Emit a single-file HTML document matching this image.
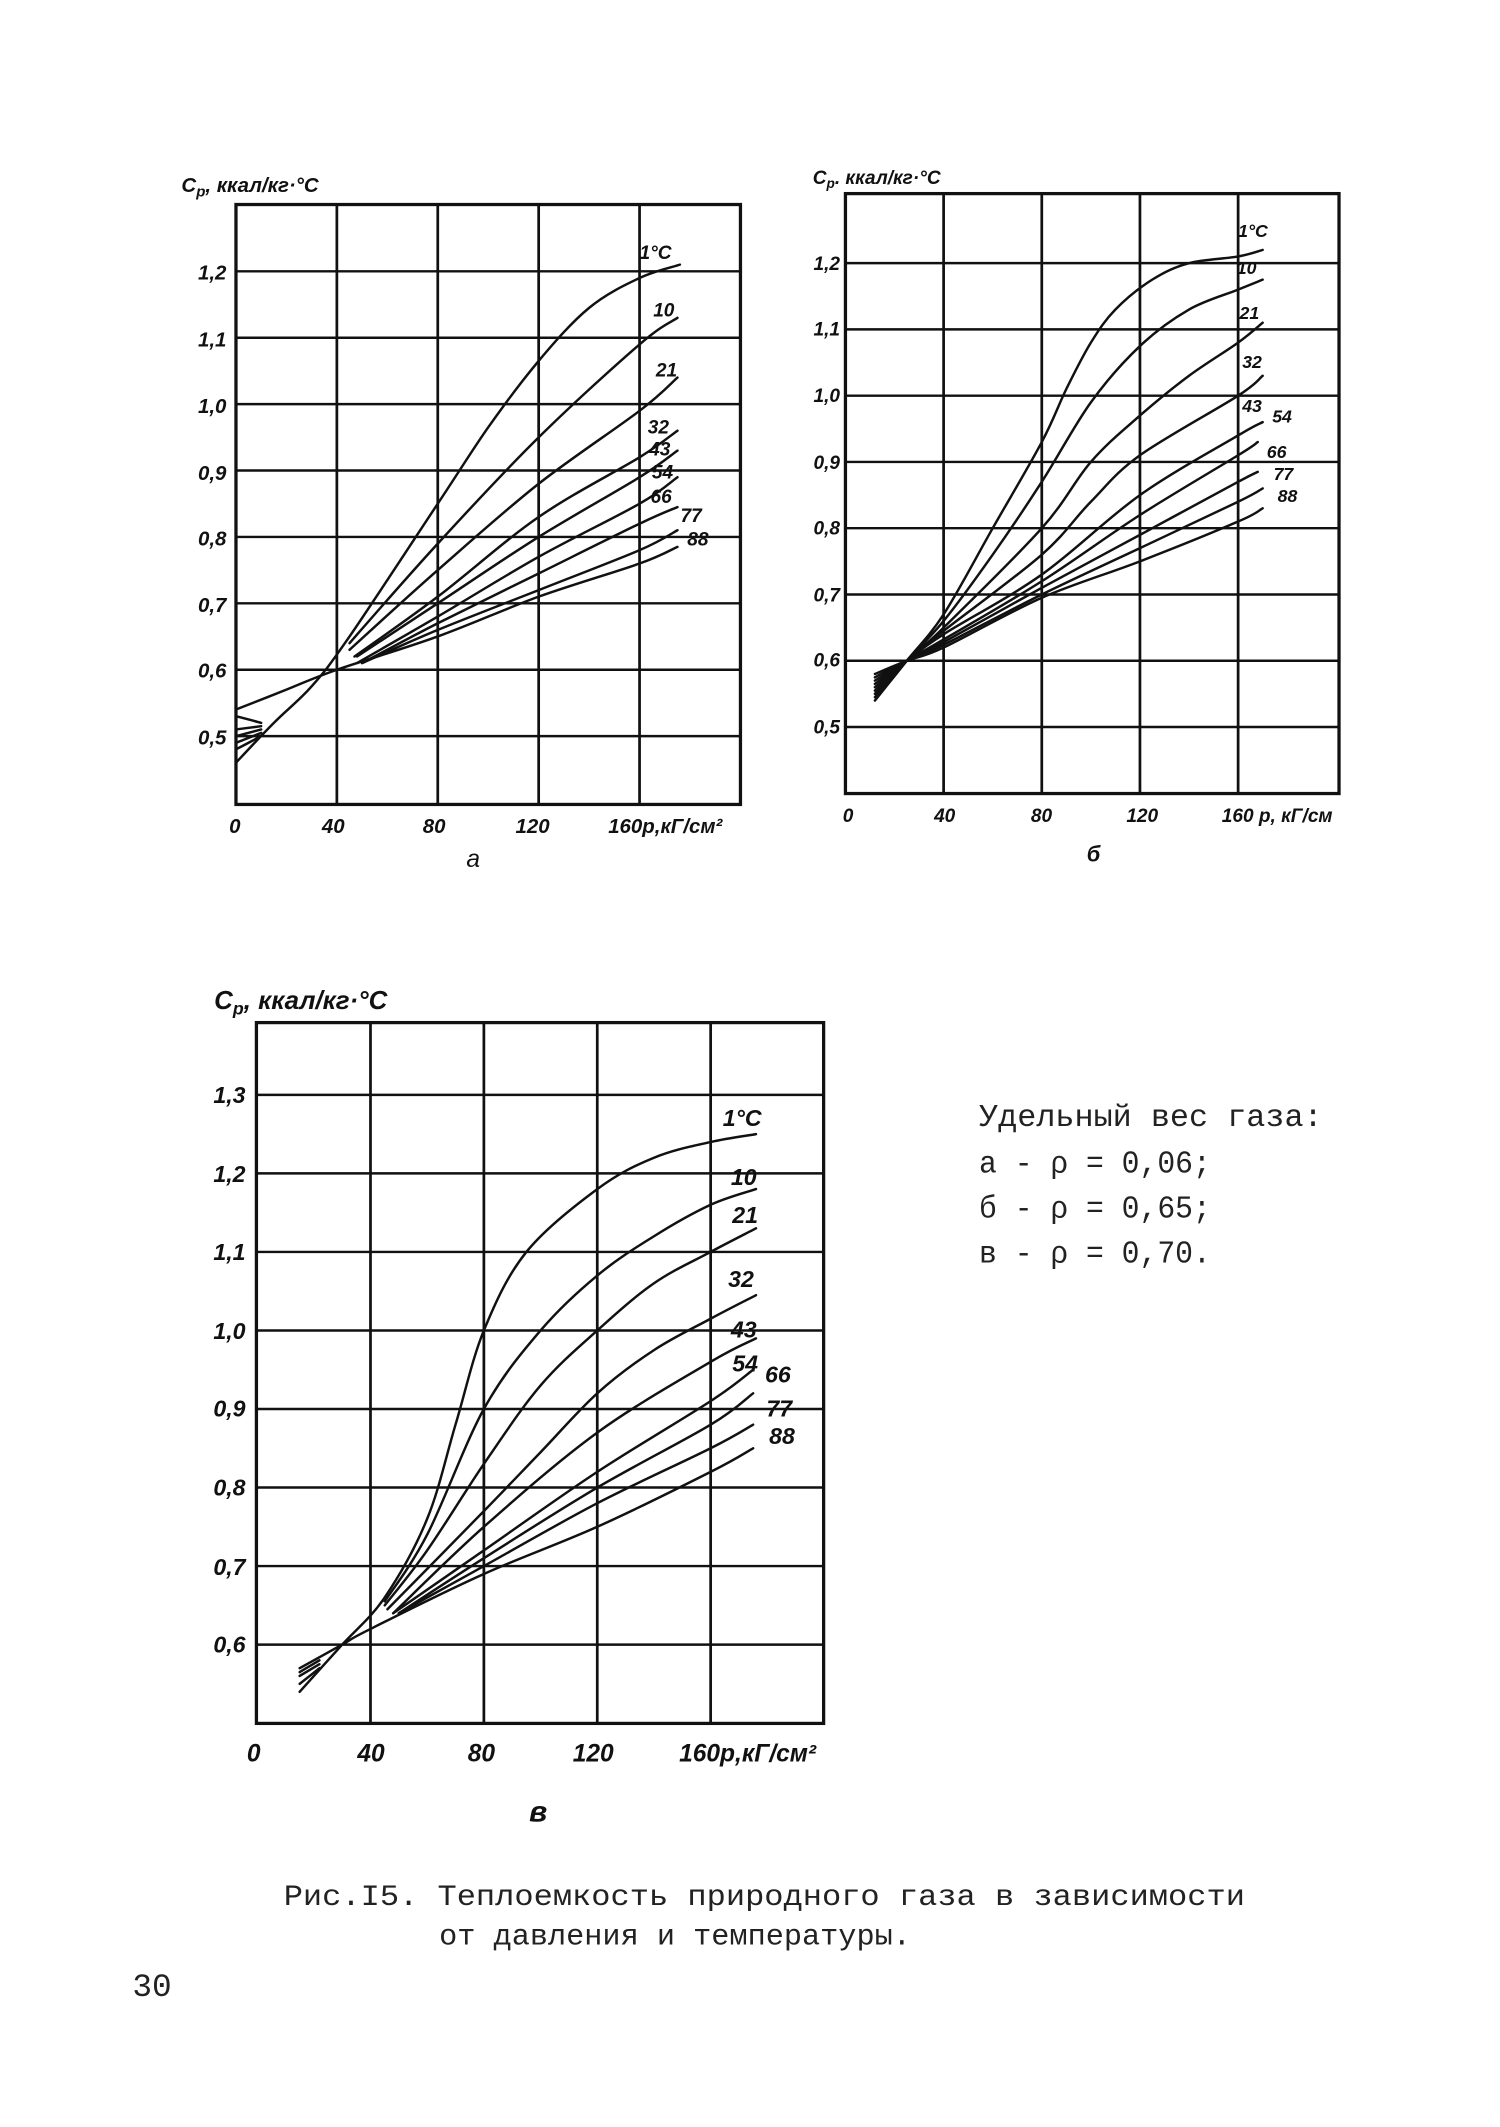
<!DOCTYPE html>
<html><head><meta charset="utf-8"><style>
html,body{margin:0;padding:0;background:#fff}
svg{display:block}
.t{font-family:"Liberation Sans","DejaVu Sans",sans-serif;font-style:italic;font-weight:bold;fill:#111}
.m{font-family:"Liberation Mono","DejaVu Sans Mono",monospace;fill:#222}
</style></head><body>
<svg id="s" width="1500" height="2127" viewBox="0 0 1100 1560" xmlns="http://www.w3.org/2000/svg">
<rect width="1100" height="1560" fill="#fff"/>
<g id="grids" stroke="#111" fill="none"></g>
<g id="curves" stroke="#111" fill="none" stroke-width="1.8" stroke-linecap="round" stroke-linejoin="round"></g>

<text class="t" x="133" y="141" font-size="15">C<tspan font-size="11" dy="3">p</tspan><tspan dy="-3">, ккал/кг·°C</tspan></text>
<g class="t" font-size="15" text-anchor="end">
<text x="166" y="205">1,2</text><text x="166" y="254">1,1</text><text x="166" y="303">1,0</text>
<text x="166" y="352">0,9</text><text x="166" y="400">0,8</text><text x="166" y="449">0,7</text>
<text x="166" y="497">0,6</text><text x="166" y="546">0,5</text></g>
<g class="t" font-size="15">
<text x="168" y="611">0</text><text x="236" y="611">40</text><text x="310" y="611">80</text>
<text x="378" y="611">120</text><text x="446" y="611">160р,кГ/см²</text>
<text x="342" y="636" font-weight="normal" font-size="18">а</text></g>
<g class="t" font-size="14" font-weight="normal">
<text x="469" y="190">1°C</text><text x="479" y="232">10</text><text x="481" y="276">21</text>
<text x="475" y="318">32</text><text x="476" y="334">43</text><text x="478" y="351">54</text>
<text x="477" y="369">66</text><text x="499" y="383">77</text><text x="504" y="400">88</text></g>

<text class="t" x="596" y="135" font-size="14">C<tspan font-size="10" dy="3">p</tspan><tspan dy="-3">. ккал/кг·°C</tspan></text>
<g class="t" font-size="14" text-anchor="end">
<text x="616" y="198">1,2</text><text x="616" y="246">1,1</text><text x="616" y="295">1,0</text>
<text x="616" y="344">0,9</text><text x="616" y="392">0,8</text><text x="616" y="441">0,7</text>
<text x="616" y="489">0,6</text><text x="616" y="538">0,5</text></g>
<g class="t" font-size="14">
<text x="618" y="603">0</text><text x="685" y="603">40</text><text x="756" y="603">80</text>
<text x="826" y="603">120</text><text x="896" y="603">160 р, кГ/см</text>
<text x="797" y="632" font-size="16">б</text></g>
<g class="t" font-size="13" font-weight="normal">
<text x="908" y="174">1°C</text><text x="907" y="201">10</text><text x="909" y="234">21</text>
<text x="911" y="270">32</text><text x="911" y="302">43</text><text x="933" y="310">54</text>
<text x="929" y="336">66</text><text x="934" y="352">77</text><text x="937" y="368">88</text></g>

<text class="t" x="157" y="740" font-size="19" font-weight="normal">C<tspan font-size="13" dy="4">р</tspan><tspan dy="-4">, ккал/кг·°C</tspan></text>
<g class="t" font-size="17" font-weight="normal" text-anchor="end">
<text x="180" y="809">1,3</text><text x="180" y="867">1,2</text><text x="180" y="924">1,1</text>
<text x="180" y="982">1,0</text><text x="180" y="1039">0,9</text><text x="180" y="1097">0,8</text>
<text x="180" y="1155">0,7</text><text x="180" y="1212">0,6</text></g>
<g class="t" font-size="18" font-weight="normal">
<text x="181" y="1292">0</text><text x="262" y="1292">40</text><text x="343" y="1292">80</text>
<text x="420" y="1292">120</text><text x="498" y="1292">160р,кГ/см²</text>
<text x="388" y="1336" font-size="22">в</text></g>
<g class="t" font-size="17">
<text x="530" y="826">1°C</text><text x="536" y="869">10</text><text x="537" y="897">21</text>
<text x="534" y="944">32</text><text x="536" y="981">43</text><text x="537" y="1006">54</text>
<text x="561" y="1014">66</text><text x="562" y="1039">77</text><text x="564" y="1059">88</text></g>

<g class="m" font-size="23">
<text x="718" y="826" textLength="252" lengthAdjust="spacingAndGlyphs">Удельный вес газа:</text>
<text x="718" y="860" textLength="170" lengthAdjust="spacingAndGlyphs">а - ρ = 0,06;</text>
<text x="718" y="893" textLength="170" lengthAdjust="spacingAndGlyphs">б - ρ = 0,65;</text>
<text x="718" y="926" textLength="170" lengthAdjust="spacingAndGlyphs">в - ρ = 0,70.</text>
<text x="208" y="1397" font-size="22" textLength="705" lengthAdjust="spacingAndGlyphs">Рис.I5. Теплоемкость природного газа в зависимости</text>
<text x="322" y="1426" font-size="22" textLength="346" lengthAdjust="spacingAndGlyphs">от давления и температуры.</text>
<text x="97" y="1464" font-size="24">30</text>
</g>
</svg>
<script>
(function(){
var NS="http://www.w3.org/2000/svg";
var G=document.getElementById('grids'),C=document.getElementById('curves');
function el(p,tag,a){var e=document.createElementNS(NS,tag);for(var k in a)e.setAttribute(k,a[k]);p.appendChild(e);return e;}
function chart(o){
 var X=function(p){return o.x0+p*o.sx},Y=function(v){return o.y0+(o.v0-v)*o.sy};
 el(G,'rect',{x:o.L,y:o.T,width:o.R-o.L,height:o.B-o.T,'stroke-width':2.4});
 [40,80,120,160].forEach(function(p){el(G,'line',{x1:X(p),x2:X(p),y1:o.T,y2:o.B,'stroke-width':2});});
 o.hv.forEach(function(v){el(G,'line',{x1:o.L,x2:o.R,y1:Y(v),y2:Y(v),'stroke-width':1.8});});
 o.c.forEach(function(pts){
  var P=pts.map(function(q){return [X(q[0]),Y(q[1])]});
  var d='M'+P[0][0].toFixed(1)+','+P[0][1].toFixed(1);
  for(var i=0;i<P.length-1;i++){
   var p0=P[i-1]||P[i],p1=P[i],p2=P[i+1],p3=P[i+2]||p2;
   var c1=[p1[0]+(p2[0]-p0[0])/6,p1[1]+(p2[1]-p0[1])/6],c2=[p2[0]-(p3[0]-p1[0])/6,p2[1]-(p3[1]-p1[1])/6];
   d+=' C'+c1[0].toFixed(1)+','+c1[1].toFixed(1)+' '+c2[0].toFixed(1)+','+c2[1].toFixed(1)+' '+p2[0].toFixed(1)+','+p2[1].toFixed(1);
  }
  el(C,'path',{d:d});
 });
}
chart({L:173,R:543,T:150,B:590,x0:173,sx:1.85,y0:199,v0:1.2,sy:487,hv:[1.2,1.1,1.0,0.9,0.8,0.7,0.6,0.5],
 c:[
 [[0,0.46],[15,0.52],[30,0.575],[45,0.65],[80,0.85],[100,0.965],[120,1.065],[140,1.145],[160,1.19],[176,1.21]],
 [[45,0.64],[80,0.79],[120,0.95],[160,1.09],[175,1.13]],
 [[45,0.63],[80,0.75],[120,0.88],[160,0.99],[175,1.04]],
 [[47,0.62],[80,0.71],[120,0.83],[160,0.92],[175,0.96]],
 [[48,0.62],[80,0.70],[120,0.80],[160,0.89],[175,0.93]],
 [[48,0.61],[80,0.68],[120,0.77],[160,0.85],[175,0.89]],
 [[50,0.61],[80,0.67],[120,0.745],[160,0.82],[175,0.845]],
 [[50,0.61],[80,0.66],[120,0.72],[160,0.78],[175,0.81]],
 [[0,0.54],[20,0.57],[40,0.6],[80,0.65],[120,0.71],[160,0.76],[175,0.785]],
 [[0,0.53],[10,0.52]],[[0,0.51],[10,0.515]],[[0,0.5],[10,0.51]],[[0,0.49],[10,0.505]],[[0,0.48],[10,0.5]]
 ]});
chart({L:620,R:982,T:142,B:582,x0:620,sx:1.8,y0:193,v0:1.2,sy:486,hv:[1.2,1.1,1.0,0.9,0.8,0.7,0.6,0.5],
 c:[
 [[12,0.54],[25,0.6],[40,0.67],[60,0.8],[80,0.93],[90,1.01],[100,1.08],[110,1.13],[125,1.175],[140,1.2],[160,1.21],[170,1.22]],
 [[12,0.545],[25,0.6],[40,0.66],[60,0.76],[80,0.87],[100,0.99],[120,1.075],[140,1.13],[160,1.16],[170,1.175]],
 [[12,0.55],[25,0.6],[40,0.65],[80,0.8],[100,0.9],[120,0.97],[140,1.03],[160,1.08],[170,1.11]],
 [[12,0.555],[25,0.6],[40,0.645],[80,0.76],[100,0.84],[120,0.91],[160,1.0],[170,1.03]],
 [[12,0.56],[25,0.6],[40,0.64],[80,0.73],[120,0.85],[160,0.94],[170,0.96]],
 [[12,0.565],[25,0.6],[40,0.632],[80,0.72],[120,0.82],[160,0.91],[168,0.93]],
 [[12,0.57],[25,0.6],[40,0.628],[80,0.71],[120,0.79],[160,0.87],[168,0.885]],
 [[12,0.575],[25,0.6],[40,0.624],[80,0.70],[120,0.77],[160,0.84],[170,0.86]],
 [[12,0.58],[25,0.6],[40,0.62],[80,0.695],[120,0.75],[160,0.81],[170,0.83]]
 ]});
chart({L:188,R:604,T:750,B:1264,x0:188.5,sx:2.079,y0:803,v0:1.3,sy:576,hv:[1.3,1.2,1.1,1.0,0.9,0.8,0.7,0.6],
 c:[
 [[15,0.54],[30,0.6],[45,0.66],[60,0.76],[70,0.88],[80,1.0],[95,1.1],[120,1.18],[140,1.22],[160,1.24],[176,1.25]],
 [[45,0.655],[60,0.74],[80,0.9],[100,1.0],[120,1.07],[140,1.12],[160,1.16],[176,1.18]],
 [[45,0.65],[60,0.72],[80,0.83],[100,0.93],[120,1.0],[140,1.06],[160,1.1],[176,1.13]],
 [[46,0.645],[80,0.77],[100,0.845],[120,0.92],[140,0.975],[160,1.015],[176,1.045]],
 [[48,0.64],[80,0.75],[120,0.87],[160,0.96],[176,0.99]],
 [[48,0.64],[80,0.72],[120,0.82],[160,0.91],[175,0.95]],
 [[50,0.64],[80,0.71],[120,0.8],[160,0.88],[175,0.92]],
 [[50,0.64],[80,0.70],[120,0.78],[160,0.85],[175,0.88]],
 [[15,0.57],[30,0.6],[40,0.62],[80,0.69],[120,0.75],[160,0.82],[175,0.85]],
 [[15,0.55],[22,0.57]],[[15,0.56],[22,0.575]],[[15,0.565],[22,0.58]]
 ]});
})();
</script>
</body></html>
